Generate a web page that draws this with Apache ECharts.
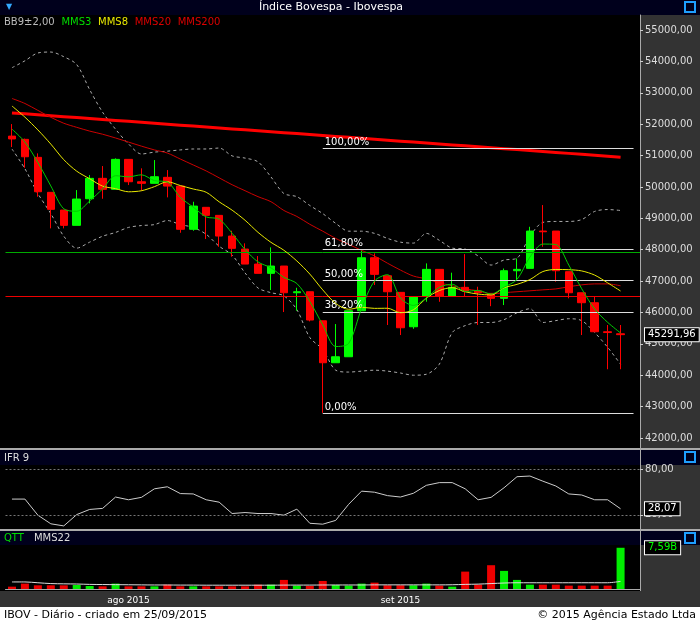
<!DOCTYPE html>
<html>
<head>
<meta charset="utf-8">
<script src="https://cdn.jsdelivr.net/npm/echarts@6/dist/echarts.min.js"></script>
<style>html,body{margin:0;padding:0;background:#000;}#main{width:700px;height:623px;}</style>
</head>
<body>
<div id="main"></div>
<script>
// pregões de 21/07/2015 a 25/09/2015 (+1 vazio no fim)
var dates = ['2015-07-21','2015-07-22','2015-07-23','2015-07-24','2015-07-27','2015-07-28','2015-07-29','2015-07-30','2015-07-31',
  '2015-08-03','2015-08-04','2015-08-05','2015-08-06','2015-08-07','2015-08-10','2015-08-11','2015-08-12','2015-08-13','2015-08-14',
  '2015-08-17','2015-08-18','2015-08-19','2015-08-20','2015-08-21','2015-08-24','2015-08-25','2015-08-26','2015-08-27','2015-08-28','2015-08-31',
  '2015-09-01','2015-09-02','2015-09-03','2015-09-04','2015-09-08','2015-09-09','2015-09-10','2015-09-11',
  '2015-09-14','2015-09-15','2015-09-16','2015-09-17','2015-09-18','2015-09-21','2015-09-22','2015-09-23','2015-09-24','2015-09-25','2015-09-28'];

var opens  = [51620,51517,50943,49828,49263,48776,49624,50274,49923,50879,50166,50115,50306,50028,48650,49350,49094,48435,48020,47542,47246,47479,46628,46660,
              45735,44397,44588,46054,47743,47170,46640,45544,46523,47373,46523,46800,46683,46608,46450,47330,47405,48594,48594,47300,46628,46310,45385,45320];
var closes = [51530,50962,49847,49286,48776,49614,50274,49923,50879,50166,50115,50325,50028,48650,49390,49094,48435,48043,47542,47246,47479,46628,46660,45758,
              44397,44588,46054,47743,47214,46660,45512,46501,47373,46523,46800,46683,46630,46450,47330,47373,48594,48572,47330,46628,46310,45385,45360,45291.96];
var lows   = [51272,50611,49688,48680,48680,48776,49477,49624,49923,50060,49878,50115,49668,48540,48604,48340,48094,47776,47542,47246,46714,46013,46054,45716,
              42800,44397,44588,46054,46873,45600,45280,45480,46342,46340,46523,46500,45600,46200,46236,47030,47405,48094,46980,46450,45280,45385,44190,44190];
var highs  = [52004,51540,51070,49828,49263,49900,50379,50666,50911,50879,50593,50857,50538,50028,49528,49350,49094,48604,48203,47797,48075,47479,46787,46660,
              45735,45630,46054,47966,47883,47170,46640,46501,47564,47373,47267,47860,46820,46608,47400,47720,48730,49423,48594,47300,46628,46500,45600,45600];
// fechamentos anteriores ao período (para as médias)
var priorCloses = [53810,53100,52900,52750,52550,52200,51800];

var bbUpper = [53800,54020,54270,54300,54150,53900,53100,52380,51840,51370,51050,51110,51140,51180,51210,51210,51240,50990,50920,50800,50320,49790,49690,49410,
               49150,48840,48590,48590,48520,48360,48240,48210,48520,48300,48050,48020,47800,47510,47670,47730,48430,48870,48900,48900,48960,49220,49280,49250];
var bbLower = [51210,50580,49790,49150,48430,48050,48240,48430,48550,48710,48770,48800,48930,48800,48710,48490,48110,47830,47260,46780,46630,46530,46090,45200,
               44820,44160,44100,44130,44160,44130,44070,44000,44030,44350,45360,45580,45680,45680,45770,45990,46120,45680,45740,45800,45740,45360,44890,44350];
var mms20 = [52820,52660,52440,52220,52030,51900,51780,51680,51560,51430,51300,51180,51080,50890,50700,50510,50290,50070,49880,49690,49530,49250,49060,48810,
             48590,48360,48170,47980,47800,47570,47350,47160,47070,46940,46850,46750,46690,46590,46630,46660,46690,46720,46750,46820,46880,46910,46910,46850];
var mms200 = [52360,52330,52300,52270,52240,52210,52180,52150,52120,52090,52060,52030,52000,51970,51940,51910,51880,51850,51820,51790,51760,51730,51700,51670,
              51640,51610,51580,51550,51520,51490,51460,51430,51400,51370,51340,51310,51280,51250,51220,51190,51160,51130,51100,51070,51040,51010,50980,50950];

var fibLevels = [[51240,'100,00%'],[48015,'61,80%'],[47018,'50,00%'],[46022,'38,20%'],[42797,'0,00%']];
var supportGreen = 47926, supportRed = 46524;

var ifr = [40.9,40.9,19.6,8.2,5.4,20.4,27.2,28.6,43.6,40,43.2,54.5,57.2,48.2,47.7,40,36.8,21.8,23.1,21.8,21.8,19.6,27.6,8.9,
           7.7,12.7,34,51.4,50,45.5,43.6,48.6,59.1,62.7,62.7,54.5,40,43.2,55.9,70.5,71.4,64.6,58.2,47.7,46.3,40,40,28.07];

var volume = [0.43,0.99,0.68,0.68,0.68,0.74,0.55,0.49,0.99,0.49,0.49,0.49,0.80,0.49,0.49,0.49,0.49,0.49,0.49,0.80,0.80,1.67,0.62,0.55,
              1.48,0.74,0.62,0.99,1.17,0.68,0.68,0.68,0.99,0.62,0.43,3.2,0.80,4.38,3.33,1.67,0.80,0.80,0.80,0.62,0.62,0.62,0.62,7.59];
var volumeUp = [0,0,0,0,0,1,1,0,1,0,0,1,0,0,1,0,0,0,0,0,1,0,1,0,0,1,1,1,0,0,0,1,1,0,1,0,0,0,1,1,1,0,0,0,0,0,0,1];
var mms22 = [1.30,1.30,1.15,1.00,0.95,0.92,0.85,0.82,0.80,0.78,0.76,0.74,0.74,0.72,0.72,0.70,0.70,0.70,0.70,0.70,0.70,0.72,0.72,0.72,
             0.74,0.74,0.74,0.74,0.76,0.76,0.76,0.76,0.76,0.76,0.78,0.85,0.90,1.00,1.10,1.15,1.15,1.15,1.15,1.15,1.15,1.15,1.15,1.40];

var priceTicks = [42000,43000,44000,45000,46000,47000,48000,49000,50000,51000,52000,53000,54000,55000];

function sma(n){
  var all = priorCloses.concat(closes), out = [];
  for (var i=0;i<closes.length;i++){
    var k = i+priorCloses.length, s = 0;
    for (var j=k-n+1;j<=k;j++) s += all[j];
    out.push(+(s/n).toFixed(2));
  }
  return out;
}
function br(v){ return v.toFixed(2).replace('.',','); }

var candleData = [];
for (var i=0;i<closes.length;i++) candleData.push([opens[i],closes[i],lows[i],highs[i]]);
var volData = volume.map(function(v,i){ return {value:v,itemStyle:{color:volumeUp[i]?'#00ee00':'#ee0000'}}; });

var FONT = 'DejaVu Sans';
// caixa com o último valor, encostada no eixo da direita
function lastBox(v,txt,color){
  return {yAxis:v,lineStyle:{color:'rgba(0,0,0,0)',width:0},
    label:{show:true,position:'end',distance:5,formatter:txt,color:color||'#fff',backgroundColor:'#000',
      borderColor:'#fff',borderWidth:1,padding:[2,3,1,3],fontSize:10,fontFamily:FONT}};
}
var fibData = fibLevels.map(function(f){
  return [{coord:[24,f[0]],label:{show:true,position:'insideStartTop',formatter:f[1],color:'#fff',fontSize:10,fontFamily:FONT,distance:[2,1]}},{coord:[48,f[0]]}];
});

var grids = [
  {left:5.5,right:60,top:15,height:433},
  {left:5.5,right:60,top:465,height:65},
  {left:5.5,right:60,top:545,height:44}
];
var hidden = {show:false};

var chart = echarts.init(document.getElementById('main'));
chart.setOption({
  backgroundColor:'#000',
  animation:false,
  textStyle:{fontFamily:FONT},
  grid:grids,
  graphic:[
    {type:'rect',shape:{x:640,y:15,width:60,height:592},style:{fill:'#333'},z:-10,silent:true},
    {type:'rect',shape:{x:0,y:591,width:700,height:16},style:{fill:'#333'},z:-10,silent:true},
    {type:'rect',shape:{x:0,y:0,width:700,height:15},style:{fill:'#00001c'}},
    {type:'rect',shape:{x:0,y:448,width:700,height:2},style:{fill:'#aaa'}},
    {type:'rect',shape:{x:0,y:450,width:700,height:15},style:{fill:'#00001c'}},
    {type:'rect',shape:{x:0,y:529,width:700,height:2},style:{fill:'#aaa'}},
    {type:'rect',shape:{x:0,y:531,width:700,height:14},style:{fill:'#00001c'}},
    {type:'rect',shape:{x:640,y:15,width:1,height:576},style:{fill:'#aaa'}},
    {type:'rect',shape:{x:0,y:607,width:700,height:16},style:{fill:'#fff'}},
    {type:'text',x:331,y:7,style:{text:'Índice Bovespa - Ibovespa',fill:'#fff',font:'11px "DejaVu Sans"',align:'center',verticalAlign:'middle'}},
    {type:'text',x:4,y:22,style:{text:'{g|BB9±2,00}  {m3|MMS3}  {m8|MMS8}  {r|MMS20}  {r|MMS200}',verticalAlign:'middle',
      rich:{g:{fill:'#bbb',fontSize:10,fontFamily:FONT},m3:{fill:'#00dd00',fontSize:10,fontFamily:FONT},m8:{fill:'#e8e800',fontSize:10,fontFamily:FONT},r:{fill:'#dd0000',fontSize:10,fontFamily:FONT}}}},
    {type:'text',x:4,y:458,style:{text:'IFR 9',fill:'#ddd',font:'10px "DejaVu Sans"',verticalAlign:'middle'}},
    {type:'text',x:4,y:538,style:{text:'{a|QTT}   {b|MMS22}',verticalAlign:'middle',
      rich:{a:{fill:'#00dd00',fontSize:10,fontFamily:FONT},b:{fill:'#ddd',fontSize:10,fontFamily:FONT}}}},
    {type:'text',x:4,y:615,style:{text:'IBOV - Diário - criado em 25/09/2015',fill:'#000',font:'11px "DejaVu Sans"',verticalAlign:'middle'}},
    {type:'text',x:696,y:615,style:{text:'© 2015 Agência Estado Ltda',fill:'#000',font:'11px "DejaVu Sans"',align:'right',verticalAlign:'middle'}},
    {type:'text',x:9,y:7,style:{text:'▼',fill:'#33aaff',font:'8px "DejaVu Sans"',align:'center',verticalAlign:'middle'}},
    {type:'rect',shape:{x:685,y:2,width:10,height:10},style:{fill:'none',stroke:'#1e9fff',lineWidth:2}},
    {type:'rect',shape:{x:685,y:452,width:10,height:10},style:{fill:'none',stroke:'#1e9fff',lineWidth:2}},
    {type:'rect',shape:{x:685,y:533,width:10,height:10},style:{fill:'none',stroke:'#1e9fff',lineWidth:2}}
  ],
  xAxis:[
    {type:'category',gridIndex:0,data:dates,boundaryGap:true,show:false},
    {type:'category',gridIndex:1,data:dates,boundaryGap:true,show:false},
    {type:'category',gridIndex:2,data:dates,boundaryGap:true,
      axisLine:{lineStyle:{color:'#aaa'}},
      axisTick:{alignWithLabel:true,length:4,lineStyle:{color:'#ddd'},interval:function(i){return i>0&&dates[i].slice(5,7)!==dates[i-1].slice(5,7);}},
      axisLabel:{color:'#fff',fontSize:9,margin:7,fontFamily:FONT,
        interval:function(i){return i>0&&dates[i].slice(5,7)!==dates[i-1].slice(5,7);},
        formatter:function(v){return {'07':'jul','08':'ago','09':'set'}[v.slice(5,7)]+' '+v.slice(0,4);}}}
  ],
  yAxis:[
    {type:'value',gridIndex:0,position:'right',min:41680,max:55480,
      axisLine:{show:true,lineStyle:{color:'#aaa'}},
      axisTick:{show:true,length:3,customValues:priceTicks,lineStyle:{color:'#ccc'}},
      axisLabel:{customValues:priceTicks,color:'#ddd',fontSize:10,margin:5,formatter:br,fontFamily:FONT},
      splitLine:hidden},
    {type:'value',gridIndex:1,position:'right',min:0,max:86,
      axisLine:{show:true,lineStyle:{color:'#aaa'}},
      axisTick:{show:true,length:3,customValues:[20,80],lineStyle:{color:'#ccc'}},
      axisLabel:{customValues:[20,80],color:'#ddd',fontSize:10,margin:5,formatter:br,fontFamily:FONT},
      splitLine:hidden},
    {type:'value',gridIndex:2,position:'right',min:0,max:8.1,
      axisLine:{show:true,lineStyle:{color:'#aaa'}},axisTick:hidden,axisLabel:hidden,splitLine:hidden}
  ],
  series:[
    {type:'line',xAxisIndex:0,yAxisIndex:0,data:bbUpper,symbol:'none',smooth:0.3,lineStyle:{color:'#aaa',width:1,type:[3,3]}},
    {type:'line',xAxisIndex:0,yAxisIndex:0,data:bbLower,symbol:'none',smooth:0.3,lineStyle:{color:'#aaa',width:1,type:[3,3]}},
    {type:'line',xAxisIndex:0,yAxisIndex:0,data:mms200,symbol:'none',lineStyle:{color:'#ff0000',width:3},z:3},
    {type:'line',xAxisIndex:0,yAxisIndex:0,data:mms20,symbol:'none',smooth:0.3,lineStyle:{color:'#cc0000',width:1},
      markLine:{silent:true,symbol:'none',label:{show:false},
        data:[
          {yAxis:supportGreen,lineStyle:{color:'#00aa00',width:1,type:'solid'}},
          {yAxis:supportRed,lineStyle:{color:'#ee0000',width:1,type:'solid'}}
        ]}},
    {type:'candlestick',xAxisIndex:0,yAxisIndex:0,data:candleData,barWidth:8,z:4,
      itemStyle:{color:'#00ff00',color0:'#ff0000',borderColor:'#00ff00',borderColor0:'#ff0000',borderWidth:1},
      markLine:{silent:true,symbol:'none',
        lineStyle:{color:'#ddd',width:1,type:'solid'},
        data:fibData}},
    {type:'line',xAxisIndex:0,yAxisIndex:0,data:sma(8),symbol:'none',smooth:0.3,lineStyle:{color:'#e8e800',width:1},z:5},
    {type:'line',xAxisIndex:0,yAxisIndex:0,data:sma(3),symbol:'none',smooth:0.3,lineStyle:{color:'#00cc00',width:1},z:5,
      markLine:{silent:true,symbol:'none',z:10,data:[lastBox(closes[closes.length-1],br(closes[closes.length-1]))]}},

    {type:'line',xAxisIndex:1,yAxisIndex:1,data:ifr,symbol:'none',lineStyle:{color:'#ccc',width:1},
      markLine:{silent:true,symbol:'none',z:10,
        data:[
          {yAxis:80,lineStyle:{color:'#777',type:[2,2],width:1},label:{show:false}},
          {yAxis:20,lineStyle:{color:'#777',type:[2,2],width:1},label:{show:false}},
          lastBox(ifr[ifr.length-1],br(ifr[ifr.length-1]))
        ]}},

    {type:'bar',xAxisIndex:2,yAxisIndex:2,data:volData,barWidth:8},
    {type:'line',xAxisIndex:2,yAxisIndex:2,data:mms22,symbol:'none',smooth:0.3,lineStyle:{color:'#ddd',width:1},z:5,
      markLine:{silent:true,symbol:'none',z:10,data:[lastBox(volume[volume.length-1],br(volume[volume.length-1])+'B','#00ff00')]}}
  ]
});
</script>
</body>
</html>
